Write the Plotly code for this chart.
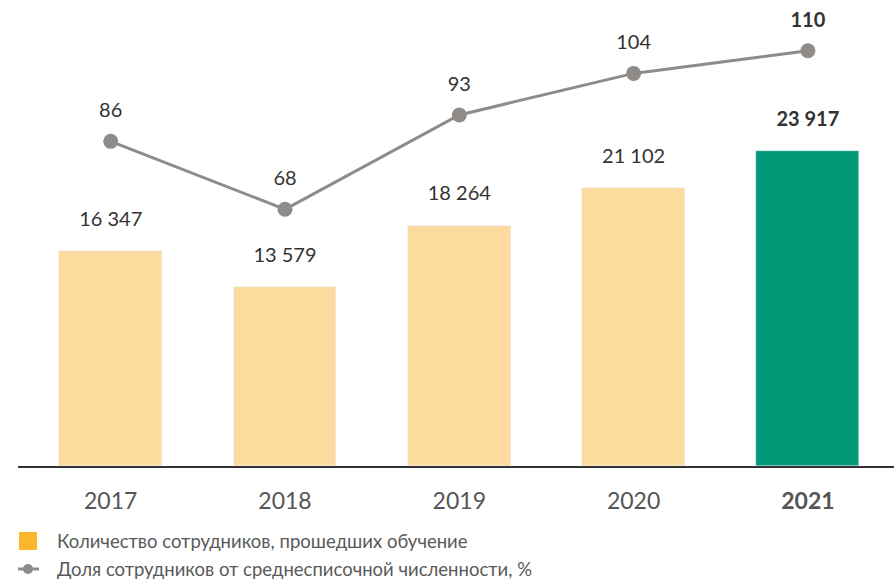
import plotly.graph_objects as go

years = ["2017", "2018", "2019", "2020", "2021"]
trained = [16347, 13579, 18264, 21102, 23917]
share = [86, 68, 93, 104, 110]
bar_colors = ["#FDDB9E", "#FDDB9E", "#FDDB9E", "#FDDB9E", "#009877"]
legend_labels = ["Количество сотрудников, прошедших обучение",
                 "Доля сотрудников от среднесписочной численности, %"]

W, H = 894, 580
L, R, T, B = 18, 0, 10, 114
FONT = "Lato"
LBL = dict(family=FONT, size=20, color="#333333")

def fmt(v):
    return f"{v:,}".replace(",", " ")

def bold_last(items):
    return [f"<b>{s}</b>" if i == len(items) - 1 else s for i, s in enumerate(items)]

def px_x(x):
    return (x - L) / (W - L - R)

def px_y(y):
    return (H - B - y) / (H - T - B)

fig = go.Figure()
fig.add_trace(go.Bar(x=years, y=trained, marker_color=bar_colors, width=0.59,
                     showlegend=False, hoverinfo="skip"))
fig.add_trace(go.Scatter(x=years, y=share, yaxis="y2", mode="lines+markers",
                         line=dict(color="#8E8B89", width=3),
                         marker=dict(color="#8E8B89", size=15),
                         showlegend=False, hoverinfo="skip"))
# value labels (invisible markers used as spacers)
fig.add_trace(go.Scatter(x=years, y=trained, mode="markers+text",
                         text=bold_last([fmt(v) for v in trained]), textposition="top center",
                         textfont=LBL, marker=dict(size=31, color="rgba(0,0,0,0)"),
                         showlegend=False, hoverinfo="skip", cliponaxis=False))
fig.add_trace(go.Scatter(x=years, y=share, yaxis="y2", mode="markers+text",
                         text=bold_last([str(v) for v in share]), textposition="top center",
                         textfont=LBL, marker=dict(size=29, color="rgba(0,0,0,0)"),
                         showlegend=False, hoverinfo="skip", cliponaxis=False))

# legend
annotations = [
    dict(x=px_x(55), y=px_y(541), xref="paper", yref="paper", xanchor="left", yanchor="middle",
         text=legend_labels[0], showarrow=False, font=dict(family=FONT, size=18.5, color="#595959")),
    dict(x=px_x(55), y=px_y(569), xref="paper", yref="paper", xanchor="left", yanchor="middle",
         text=legend_labels[1], showarrow=False, font=dict(family=FONT, size=18.5, color="#595959")),
]
shapes = [
    dict(type="rect", xref="paper", yref="paper", x0=px_x(19), x1=px_x(37), y0=px_y(550), y1=px_y(532),
         fillcolor="#FBB62B", line=dict(width=0)),
    dict(type="line", xref="paper", yref="paper", x0=px_x(18), x1=px_x(39), y0=px_y(569), y1=px_y(569),
         line=dict(color="#8E8B89", width=3)),
    dict(type="circle", xref="paper", yref="paper", x0=px_x(23), x1=px_x(33), y0=px_y(574), y1=px_y(564),
         fillcolor="#8E8B89", line=dict(width=0)),
]

plot_h = H - T - B
hidden = dict(showgrid=False, showline=False, zeroline=False, showticklabels=False, ticks="")
fig.update_layout(
    width=W, height=H, margin=dict(l=L, r=R, t=T, b=B),
    paper_bgcolor="white", plot_bgcolor="white",
    bargap=0,
    xaxis=dict(type="category", range=[-0.532, 4.494], showgrid=False, showline=True, linecolor="#333333",
               linewidth=2, ticks="outside", ticklen=13, tickcolor="rgba(0,0,0,0)",
               tickvals=years, ticktext=bold_last(years),
               tickfont=dict(family=FONT, size=23, color="#555555")),
    yaxis=dict(range=[0, plot_h * 76], **hidden),
    yaxis2=dict(range=[0, plot_h / 3.775], overlaying="y", **hidden),
    annotations=annotations, shapes=shapes, showlegend=False,
)
fig.write_html("out.html", config={"displayModeBar": False},
               post_script="document.body.style.margin='0';document.body.style.overflow='hidden';")
